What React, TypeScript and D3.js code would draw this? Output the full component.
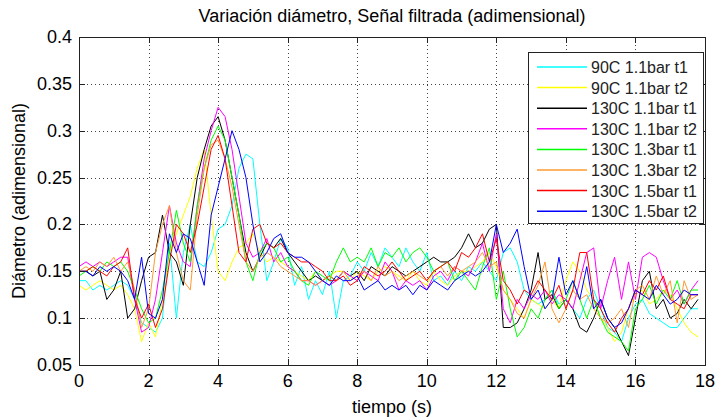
import { useEffect, useRef } from 'react'
import * as d3 from 'd3'

// sample times (s), one every 0.2 s
const tiempo = d3.range(90).map(i => +(i * 0.2).toFixed(1))

const xTicks = [0, 2, 4, 6, 8, 10, 12, 14, 16, 18]
const yTicks = [0.05, 0.1, 0.15, 0.2, 0.25, 0.3, 0.35, 0.4]
const yTickLabels = ['0.05', '0.1', '0.15', '0.2', '0.25', '0.3', '0.35', '0.4']

const nombres = [
    '90C 1.1bar t1', '90C 1.1bar t2', '130C 1.1bar t1', '130C 1.1bar t2',
    '130C 1.3bar t1', '130C 1.3bar t2', '130C 1.5bar t1', '130C 1.5bar t2',
]
const colores = ['#00ffff', '#ffff00', '#000000', '#ff00ff', '#00ff00', '#ff9a30', '#ff0000', '#0000ff']

const c90_11_t1 = [
    0.14, 0.14, 0.13, 0.135, 0.13, 0.135, 0.14, 0.135, 0.12, 0.095,
    0.09, 0.085, 0.10, 0.18, 0.10, 0.17, 0.20, 0.16, 0.155, 0.17,
    0.195, 0.20, 0.22, 0.26, 0.275, 0.27, 0.20, 0.14, 0.16, 0.185,
    0.175, 0.135, 0.155, 0.12, 0.14, 0.125, 0.15, 0.10, 0.14, 0.145,
    0.16, 0.15, 0.17, 0.155, 0.175, 0.165, 0.155, 0.175, 0.16, 0.15,
    0.17, 0.14, 0.145, 0.135, 0.15, 0.14, 0.155, 0.15, 0.16, 0.15,
    0.14, 0.17, 0.175, 0.16, 0.13, 0.12, 0.115, 0.12, 0.13, 0.115,
    0.12, 0.11, 0.10, 0.12, 0.13, 0.11, 0.09, 0.085, 0.075, 0.10,
    0.115, 0.12, 0.105, 0.10, 0.095, 0.09, 0.09, 0.10, 0.11, 0.11,
]
const c90_11_t2 = [
    0.135, 0.13, 0.135, 0.14, 0.135, 0.13, 0.135, 0.125, 0.11, 0.075,
    0.095, 0.08, 0.12, 0.17, 0.19, 0.21, 0.23, 0.26, 0.28, 0.21,
    0.15, 0.14, 0.16, 0.175, 0.18, 0.19, 0.17, 0.16, 0.165, 0.16,
    0.155, 0.15, 0.145, 0.14, 0.15, 0.14, 0.145, 0.15, 0.15, 0.14,
    0.15, 0.145, 0.14, 0.15, 0.155, 0.15, 0.145, 0.14, 0.15, 0.14,
    0.135, 0.15, 0.14, 0.135, 0.145, 0.15, 0.15, 0.155, 0.16, 0.17,
    0.155, 0.13, 0.12, 0.11, 0.10, 0.12, 0.115, 0.11, 0.12, 0.11,
    0.14, 0.16, 0.15, 0.13, 0.12, 0.10, 0.09, 0.075, 0.085, 0.11,
    0.125, 0.13, 0.115, 0.12, 0.13, 0.125, 0.11, 0.095, 0.085, 0.08,
]
const c130_11_t1 = [
    0.15, 0.15, 0.145, 0.15, 0.12, 0.13, 0.15, 0.10, 0.11, 0.14,
    0.165, 0.17, 0.21, 0.17, 0.16, 0.135, 0.20, 0.25, 0.28, 0.305,
    0.315, 0.29, 0.25, 0.21, 0.17, 0.15, 0.165, 0.18, 0.175, 0.185,
    0.17, 0.16, 0.15, 0.14, 0.145, 0.14, 0.145, 0.14, 0.15, 0.145,
    0.15, 0.14, 0.155, 0.15, 0.145, 0.155, 0.15, 0.145, 0.15, 0.155,
    0.16, 0.165, 0.16, 0.16, 0.165, 0.175, 0.19, 0.175, 0.18, 0.195,
    0.20, 0.09, 0.09, 0.095, 0.11, 0.13, 0.17, 0.12, 0.125, 0.11,
    0.12, 0.11, 0.09, 0.085, 0.10, 0.12, 0.10, 0.09, 0.075, 0.06,
    0.10, 0.14, 0.15, 0.11, 0.12, 0.10, 0.105, 0.12, 0.11, 0.12,
]
const c130_11_t2 = [
    0.155, 0.16, 0.155, 0.16, 0.155, 0.16, 0.165, 0.165, 0.12, 0.085,
    0.09, 0.12, 0.17, 0.22, 0.18, 0.16, 0.155, 0.22, 0.27, 0.30,
    0.325, 0.315, 0.28, 0.23, 0.18, 0.165, 0.17, 0.185, 0.16, 0.17,
    0.155, 0.15, 0.14, 0.14, 0.135, 0.14, 0.135, 0.14, 0.15, 0.145,
    0.14, 0.15, 0.145, 0.14, 0.16, 0.15, 0.13, 0.14, 0.135, 0.14,
    0.13, 0.145, 0.15, 0.14, 0.155, 0.15, 0.145, 0.16, 0.18, 0.15,
    0.19, 0.11, 0.095, 0.12, 0.11, 0.125, 0.12, 0.13, 0.115, 0.125,
    0.12, 0.11, 0.14, 0.17, 0.175, 0.11, 0.14, 0.165, 0.12, 0.16,
    0.12, 0.165, 0.17, 0.165, 0.14, 0.12, 0.13, 0.115, 0.13, 0.14,
]
const c130_13_t1 = [
    0.145, 0.15, 0.155, 0.15, 0.16, 0.155, 0.16, 0.15, 0.13, 0.11,
    0.095, 0.10, 0.13, 0.17, 0.215, 0.18, 0.16, 0.22, 0.26, 0.29,
    0.305, 0.29, 0.25, 0.21, 0.16, 0.14, 0.17, 0.18, 0.175, 0.16,
    0.165, 0.15, 0.14, 0.135, 0.15, 0.145, 0.14, 0.16, 0.175, 0.16,
    0.165, 0.16, 0.175, 0.155, 0.17, 0.165, 0.175, 0.16, 0.17, 0.175,
    0.165, 0.15, 0.155, 0.16, 0.14, 0.15, 0.14, 0.13, 0.155, 0.175,
    0.12, 0.15, 0.11, 0.08, 0.09, 0.11, 0.10, 0.12, 0.13, 0.11,
    0.12, 0.14, 0.12, 0.10, 0.12, 0.10, 0.085, 0.08, 0.075, 0.065,
    0.11, 0.12, 0.135, 0.115, 0.13, 0.12, 0.14, 0.115, 0.13, 0.13,
]
const c130_13_t2 = [
    0.15, 0.155, 0.15, 0.16, 0.155, 0.165, 0.15, 0.16, 0.13, 0.09,
    0.11, 0.17, 0.20, 0.22, 0.17, 0.14, 0.13, 0.21, 0.26, 0.285,
    0.29, 0.27, 0.24, 0.20, 0.16, 0.15, 0.165, 0.17, 0.165, 0.155,
    0.15, 0.145, 0.14, 0.14, 0.135, 0.14, 0.145, 0.14, 0.15, 0.14,
    0.145, 0.15, 0.14, 0.155, 0.145, 0.15, 0.14, 0.145, 0.15, 0.145,
    0.14, 0.15, 0.155, 0.145, 0.155, 0.15, 0.155, 0.16, 0.17, 0.155,
    0.16, 0.13, 0.12, 0.105, 0.10, 0.12, 0.135, 0.16, 0.11, 0.095,
    0.11, 0.13, 0.12, 0.125, 0.11, 0.10, 0.095, 0.10, 0.11, 0.09,
    0.13, 0.135, 0.12, 0.145, 0.125, 0.14, 0.095, 0.14, 0.12, 0.125,
]
const c130_15_t1 = [
    0.15, 0.15, 0.155, 0.15, 0.145, 0.155, 0.16, 0.175, 0.12, 0.10,
    0.115, 0.09, 0.11, 0.16, 0.20, 0.19, 0.17, 0.20, 0.24, 0.28,
    0.295, 0.27, 0.22, 0.17, 0.16, 0.195, 0.20, 0.18, 0.175, 0.18,
    0.17, 0.165, 0.16, 0.16, 0.155, 0.15, 0.14, 0.14, 0.145, 0.135,
    0.14, 0.155, 0.15, 0.145, 0.15, 0.16, 0.15, 0.14, 0.145, 0.15,
    0.14, 0.15, 0.155, 0.16, 0.15, 0.17, 0.165, 0.175, 0.19, 0.16,
    0.185, 0.14, 0.13, 0.115, 0.13, 0.125, 0.14, 0.13, 0.12, 0.135,
    0.11, 0.13, 0.17, 0.17, 0.12, 0.11, 0.095, 0.085, 0.10, 0.11,
    0.13, 0.125, 0.14, 0.13, 0.145, 0.12, 0.115, 0.11, 0.125, 0.125,
]
const c130_15_t2 = [
    0.15, 0.15, 0.145, 0.155, 0.15, 0.155, 0.15, 0.14, 0.12, 0.165,
    0.105, 0.10, 0.12, 0.19, 0.17, 0.19, 0.185, 0.16, 0.135, 0.21,
    0.24, 0.27, 0.30, 0.28, 0.25, 0.20, 0.16, 0.17, 0.185, 0.19,
    0.17, 0.165, 0.165, 0.16, 0.15, 0.14, 0.135, 0.145, 0.14, 0.14,
    0.145, 0.13, 0.135, 0.14, 0.13, 0.135, 0.13, 0.135, 0.125, 0.135,
    0.13, 0.14, 0.135, 0.13, 0.14, 0.145, 0.15, 0.145, 0.15, 0.16,
    0.20, 0.17, 0.18, 0.195, 0.155, 0.12, 0.13, 0.11, 0.12, 0.165,
    0.125, 0.14, 0.12, 0.155, 0.11, 0.12, 0.10, 0.09, 0.095, 0.11,
    0.13, 0.125, 0.12, 0.135, 0.125, 0.115, 0.12, 0.13, 0.125, 0.125,
]

const series = [c90_11_t1, c90_11_t2, c130_11_t1, c130_11_t2, c130_13_t1, c130_13_t2, c130_15_t1, c130_15_t2]

export default function App() {
    const svgRef = useRef<SVGSVGElement>(null)

    useEffect(() => {
        if (!svgRef.current) return
        const svg = d3.select(svgRef.current)
        svg.selectAll('*').remove()

        const width = 715
        const height = 419
        const margin = { top: 37, right: 10, bottom: 54, left: 79 }
        const font = 'Arial, "Liberation Sans", sans-serif'

        svg.attr('width', width).attr('height', height)
        svg.append('rect').attr('width', width).attr('height', height).attr('fill', '#fff')

        const x = d3.scaleLinear().domain([0, 18]).range([margin.left, width - margin.right])
        const y = d3.scaleLinear().domain([0.05, 0.4]).range([height - margin.bottom, margin.top])
        const [x0, x1] = x.range()
        const [y0, y1] = y.range()

        // dotted grid
        const grid = svg.append('g').attr('stroke', '#444').attr('stroke-dasharray', '1,3').attr('shape-rendering', 'crispEdges')
        grid.selectAll('.gx')
            .data(xTicks.slice(1, -1))
            .enter()
            .append('line')
            .attr('x1', d => Math.round(x(d)) + 0.5)
            .attr('x2', d => Math.round(x(d)) + 0.5)
            .attr('y1', y1)
            .attr('y2', y0)
        grid.selectAll('.gy')
            .data(yTicks.slice(1, -1))
            .enter()
            .append('line')
            .attr('x1', x0)
            .attr('x2', x1)
            .attr('y1', d => Math.round(y(d)) + 0.5)
            .attr('y2', d => Math.round(y(d)) + 0.5)

        // data lines
        const line = d3.line<number>()
            .x((_, i) => x(tiempo[i]))
            .y(d => y(d))

        series.forEach((s, k) => {
            svg.append('path')
                .datum(s)
                .attr('fill', 'none')
                .attr('stroke', colores[k])
                .attr('stroke-width', 1)
                .attr('d', line)
        })

        // axes box + inward ticks
        const box = svg.append('g').attr('stroke', '#222').attr('shape-rendering', 'crispEdges')
        box.append('rect')
            .attr('x', x0 + 0.5)
            .attr('y', y1 + 0.5)
            .attr('width', x1 - x0)
            .attr('height', y0 - y1)
            .attr('fill', 'none')
        const tk = 6
        xTicks.forEach(t => {
            const px = Math.round(x(t)) + 0.5
            box.append('line').attr('x1', px).attr('x2', px).attr('y1', y0).attr('y2', y0 - tk)
            box.append('line').attr('x1', px).attr('x2', px).attr('y1', y1).attr('y2', y1 + tk)
        })
        yTicks.forEach(t => {
            const py = Math.round(y(t)) + 0.5
            box.append('line').attr('x1', x0).attr('x2', x0 + tk).attr('y1', py).attr('y2', py)
            box.append('line').attr('x1', x1).attr('x2', x1 - tk).attr('y1', py).attr('y2', py)
        })

        // tick labels
        svg.selectAll('.xl')
            .data(xTicks)
            .enter()
            .append('text')
            .attr('x', d => x(d))
            .attr('y', y0 + 22)
            .attr('text-anchor', 'middle')
            .attr('font-family', font)
            .attr('font-size', '18px')
            .attr('fill', '#000')
            .text(d => String(d))
        svg.selectAll('.yl')
            .data(yTicks)
            .enter()
            .append('text')
            .attr('x', x0 - 7)
            .attr('y', d => y(d) + 6)
            .attr('text-anchor', 'end')
            .attr('font-family', font)
            .attr('font-size', '18px')
            .attr('fill', '#000')
            .text((_, i) => yTickLabels[i])

        // title and axis labels
        svg.append('text')
            .attr('x', (x0 + x1) / 2)
            .attr('y', 22)
            .attr('text-anchor', 'middle')
            .attr('font-family', font)
            .attr('font-size', '18px')
            .text('Variación diámetro, Señal filtrada (adimensional)')
        svg.append('text')
            .attr('x', (x0 + x1) / 2)
            .attr('y', 413)
            .attr('text-anchor', 'middle')
            .attr('font-family', font)
            .attr('font-size', '18px')
            .text('tiempo (s)')
        svg.append('text')
            .attr('transform', `translate(25,${(y0 + y1) / 2}) rotate(-90)`)
            .attr('text-anchor', 'middle')
            .attr('font-family', font)
            .attr('font-size', '18px')
            .text('Diámetro (adimensional)')

        // legend
        const legend = svg.append('g')
        legend.append('rect')
            .attr('x', 528.5)
            .attr('y', 52.5)
            .attr('width', 175)
            .attr('height', 171)
            .attr('fill', '#fff')
            .attr('stroke', '#222')
            .attr('shape-rendering', 'crispEdges')
        nombres.forEach((n, k) => {
            const ly = 67 + k * 20.6
            legend.append('line')
                .attr('x1', 537)
                .attr('x2', 587)
                .attr('y1', ly)
                .attr('y2', ly)
                .attr('stroke', colores[k])
                .attr('stroke-width', 1.5)
            legend.append('text')
                .attr('x', 591)
                .attr('y', ly + 6)
                .attr('font-family', font)
                .attr('font-size', '16px')
                .attr('fill', '#222')
                .text(n)
        })
    }, [])

    return <svg ref={svgRef} style={{ position: 'absolute', left: 0, top: 0 }} />
}
